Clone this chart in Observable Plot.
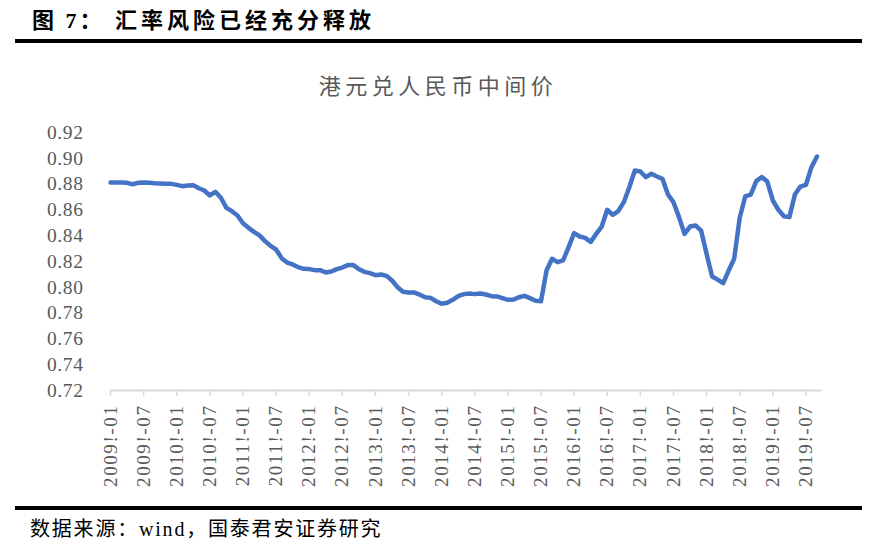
<!DOCTYPE html>
<html><head><meta charset="utf-8">
<script src="https://cdn.jsdelivr.net/npm/d3@7"></script>
<script src="https://cdn.jsdelivr.net/npm/@observablehq/plot@0.6"></script>
<style>
body{margin:0;background:#fff;}
#wrap{position:relative;width:872px;height:547px;overflow:hidden;background:#fff;}
#wrap svg{position:absolute;left:0;top:0;}
.t{position:absolute;white-space:nowrap;line-height:1;}
.ft{top:10px;font-weight:bold;font-size:22px;font-family:'Liberation Serif','Noto Sans CJK SC';color:#000;}
</style></head><body>
<div id="wrap">
<div class="t ft" style="left:32px;letter-spacing:3px">图 7：</div>
<div class="t ft" style="left:115px;letter-spacing:4px">汇率风险已经充分释放</div>
<div style="position:absolute;left:15px;top:39px;width:847px;height:3.5px;background:#000"></div>
<div class="t" style="left:2px;width:872px;text-align:center;top:73px;font-size:22px;font-family:'Noto Sans CJK SC';letter-spacing:4.5px;color:#595959">港元兑人民币中间价</div>
<div style="position:absolute;left:15px;top:506px;width:847px;height:3.5px;background:#000"></div>
<div class="t" style="left:30px;top:519px;font-size:20px;font-family:'Liberation Serif','Noto Sans CJK SC';letter-spacing:1.8px;color:#000">数据来源：wind，国泰君安证券研究</div>
</div>
<script>
// Monthly HKD/CNY central parity, 2009-01 .. 2019-09
const rates = [
0.8812,0.8812,0.8812,0.8810,0.8799,0.8810,0.8812,0.8810,0.8807,0.8805,0.8802,0.8802,
0.8794,0.8784,0.8789,0.8792,0.8768,0.8750,0.8712,0.8740,0.8694,0.8616,0.8590,0.8557,
0.8497,0.8461,0.8430,0.8402,0.8358,0.8321,0.8293,0.8226,0.8192,0.8177,0.8156,0.8143,
0.8141,0.8133,0.8133,0.8115,0.8122,0.8141,0.8153,0.8172,0.8172,0.8141,0.8120,0.8110,
0.8094,0.8099,0.8089,0.8053,0.8001,0.7965,0.7960,0.7960,0.7944,0.7923,0.7918,0.7892,
0.7872,0.7880,0.7903,0.7931,0.7947,0.7952,0.7947,0.7952,0.7944,0.7931,0.7929,0.7916,
0.7903,0.7905,0.7923,0.7934,0.7916,0.7895,0.7892,0.8130,0.8221,0.8195,0.8208,0.8311,
0.8420,0.8394,0.8383,0.8352,0.8414,0.8471,0.8601,0.8562,0.8590,0.8660,0.8776,0.8905,
0.8898,0.8854,0.8880,0.8859,0.8841,0.8719,0.8660,0.8544,0.8414,0.8471,0.8479,0.8440,
0.8259,0.8084,0.8060,0.8032,0.8130,0.8221,0.8539,0.8704,0.8719,0.8823,0.8854,0.8820,
0.8673,0.8601,0.8551,0.8544,0.8719,0.8781,0.8794,0.8931,0.9014
];
const xTickLabels = ["2009!-01","2009!-07","2010!-01","2010!-07","2011!-01","2011!-07","2012!-01","2012!-07",
"2013!-01","2013!-07","2014!-01","2014!-07","2015!-01","2015!-07","2016!-01","2016!-07",
"2017!-01","2017!-07","2018!-01","2018!-07","2019!-01","2019!-07"];
const yTicks = [0.72,0.74,0.76,0.78,0.80,0.82,0.84,0.86,0.88,0.90,0.92];
const monthCount = 129; // axis extends to 2019-10

const xTickPos = xTickLabels.map((_, k) => k * 6);
const plot = Plot.plot({
  width: 872, height: 547,
  marginLeft: 110, marginRight: 50, marginTop: 132, marginBottom: 157,
  style: {fontFamily: "'Liberation Serif', serif", background: "transparent", color: "#595959"},
  x: {domain: [0, monthCount], axis: null},
  y: {domain: [0.72, 0.92], axis: null},
  marks: [
    Plot.ruleY([0.72], {stroke: "#d9d9d9", strokeWidth: 2}),
    Plot.axisX(xTickPos, {tickFormat: i => xTickLabels[i / 6], tickRotate: -90, tickSize: 6, tickPadding: 8,
      stroke: "#d9d9d9", fill: "#595959", fontSize: 19, strokeWidth: 1.5}),
    Plot.axisY(yTicks, {tickFormat: d => d.toFixed(2), tickSize: 0, tickPadding: 27, fill: "#595959", fontSize: 19.5}),
    Plot.lineY(rates, {x: (d, i) => i, y: d => d, stroke: "#4472C4", strokeWidth: 4.5,
      strokeLinejoin: "round", strokeLinecap: "round"})
  ]
});
d3.select(plot).selectAll('g[aria-label="x-axis tick label"] text').attr("letter-spacing", "1.6px");
d3.select(plot).selectAll('g[aria-label="y-axis tick label"] text').attr("letter-spacing", "0.6px");
document.getElementById("wrap").prepend(plot);
</script>
</body></html>
